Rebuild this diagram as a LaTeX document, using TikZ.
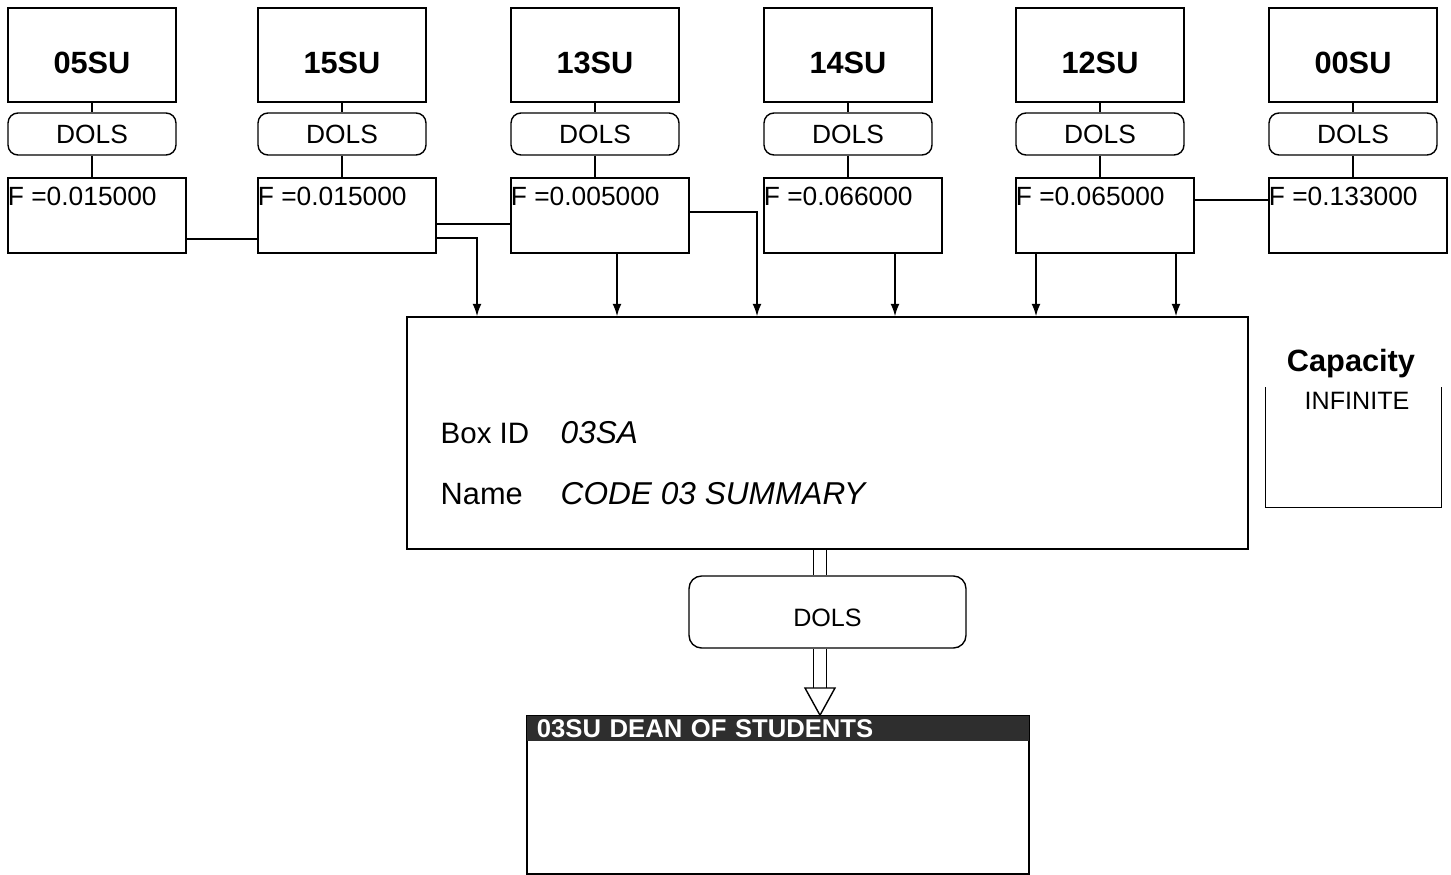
\documentclass[tikz,border=0pt]{standalone}
\usepackage{fontspec}
\setmainfont{Liberation Sans}
\usetikzlibrary{positioning,calc,arrows.meta}

\begin{document}
\begin{tikzpicture}[x=0.02cm,y=-0.02cm,line width=0.8pt,
  unit/.style={draw,line width=0.9pt,minimum width=3.36cm,minimum height=1.88cm,text height=0.76cm,text depth=0pt,font=\fontsize{17.5}{20}\selectfont\bfseries},
  dols/.style={draw,rounded corners=0.2cm,minimum width=3.36cm,minimum height=0.84cm,font=\fontsize{15}{17}\selectfont},
  fbox/.style={draw,line width=0.9pt,minimum width=3.56cm,minimum height=1.5cm},
  feed/.style={-{Latex[length=7pt,width=5pt]}}]
  \useasboundingbox (0,0) rectangle (1451,875);
  % supplier units with their links and factors
  \foreach \i/\x/\name/\f in {1/8/05SU/0.015000,2/258/15SU/0.015000,3/511/13SU/0.005000,4/764/14SU/0.066000,5/1016/12SU/0.065000,6/1269/00SU/0.133000}{
    \node[unit] (u\i) at (\x+84,55) {\name};
    \node[dols] (d\i) at (\x+84,134) {DOLS};
    \node[fbox,label={[anchor=north west,inner sep=0pt,yshift=-5.5pt,font=\fontsize{15}{17}\selectfont]north west:F =\f}] (f\i) at (\x+89,215.5) {};
    \draw (u\i) -- (d\i);
    \draw (d\i.south) -- (d\i.south |- f\i.north);
  }
  \node[draw,line width=0.9pt,minimum width=16.82cm,minimum height=4.64cm] (main) at (827.5,433) {};
  \node[anchor=base west,inner sep=0pt,font=\fontsize{16.8}{20}\selectfont] (idkey) at (440,443) {Box ID};
  \node[anchor=base west,inner sep=0pt,font=\fontsize{18}{20}\selectfont\itshape] (idval) at (560,443) {03SA};
  \node[anchor=base west,inner sep=0pt,font=\fontsize{17.5}{20}\selectfont] (namekey) at (440,504) {Name};
  \node[anchor=base west,inner sep=0pt,font=\fontsize{18}{20}\selectfont\itshape] (nameval) at (560,504) {CODE 03 SUMMARY};
  % flows into the summary box
  \draw (f1.east |- 0,239) -- (f2.west |- 0,239);
  \draw (f2.east |- 0,224) -- (f3.west |- 0,224);
  \draw[feed] (f2.east |- 0,238) -| (477,0 |- main.north);
  \draw[feed] (617,0 |- f3.south) -- (617,0 |- main.north);
  \draw[feed] (f3.east |- 0,212) -| (757,0 |- main.north);
  \draw[feed] (895,0 |- f4.south) -- (895,0 |- main.north);
  \draw[feed] (1036,0 |- f5.south) -- (1036,0 |- main.north);
  \draw[feed] (1176,0 |- f5.south) -- (1176,0 |- main.north);
  \draw (f5.east |- 0,200) -- (f6.west |- 0,200);
  % capacity
  \node[font=\fontsize{17.5}{20}\selectfont\bfseries] (captitle) at (1351,364) {Capacity};
  \node[minimum width=3.5cm,minimum height=2.38cm] (capbox) at (1353.5,447.5) {};
  \draw[line width=0.9pt] (capbox.north west) -- (capbox.south west) -- (capbox.south east) -- (capbox.north east);
  \node[anchor=north,inner sep=0pt,font=\fontsize{14.3}{17}\selectfont] (capval) at (1357,392) {INFINITE};
  % output
  \node[draw,rounded corners=0.25cm,minimum width=5.54cm,minimum height=1.44cm,text height=0.56cm,text depth=0pt,font=\fontsize{14.3}{17}\selectfont] (dolsout) at (827.5,612) {DOLS};
  \node[draw,line width=0.9pt,minimum width=10.04cm,minimum height=3.16cm] (stu) at (778,795) {};
  \node[fill=black!82,text=white,anchor=north west,text width=9.64cm,inner xsep=0.2cm,inner ysep=0pt,minimum height=0.5cm,align=left,font=\fontsize{14.6}{16}\selectfont\bfseries] (stuhead) at (stu.north west) {03SU DEAN OF STUDENTS};
  \coordinate (tail) at (820,688);
  \draw[double,double distance=6.5pt] (820,0 |- main.south) -- (820,0 |- dolsout.north);
  \draw[double,double distance=6.5pt] (820,0 |- dolsout.south) -- (tail);
  \draw[fill=white] ($(tail)+(-15,0)$) -- ($(tail)+(15,0)$) -- (820,0 |- stu.north) -- cycle;
\end{tikzpicture}
\end{document}
